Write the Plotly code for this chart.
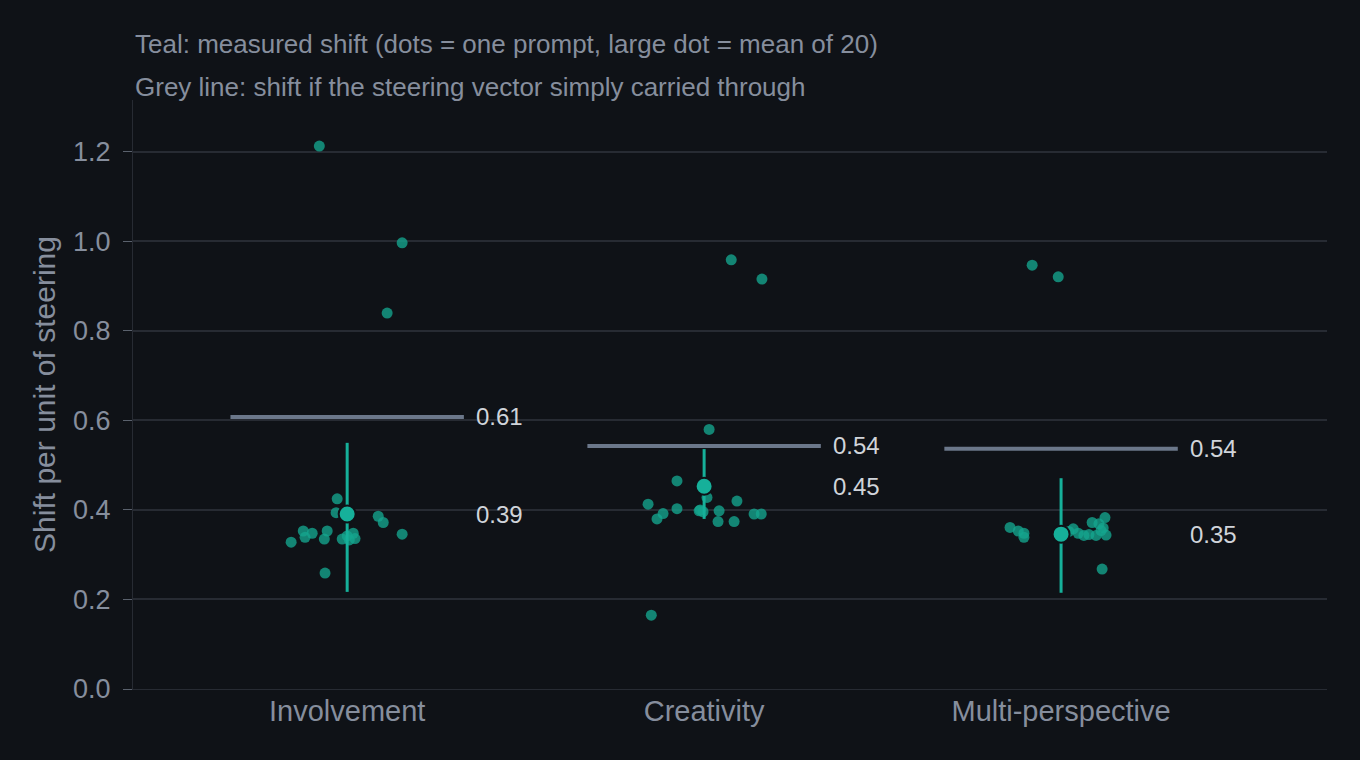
import plotly.graph_objects as go

categories = ["Involvement", "Creativity", "Multi-perspective"]

# per-prompt measured shifts (x jitter offset, y value)
inv_offsets = [-0.078, 0.154, 0.112, -0.028, -0.031, 0.087, 0.101, 0.154, -0.123, -0.098,
               -0.118, -0.157, -0.056, -0.064, -0.014, 0.017, 0.022, 0.006, -0.062, 0.0]
inv_values = [1.213, 0.997, 0.840, 0.425, 0.394, 0.386, 0.372, 0.346, 0.353, 0.348,
              0.339, 0.328, 0.353, 0.335, 0.335, 0.348, 0.336, 0.333, 0.259, 0.342]

cre_offsets = [0.076, 0.162, 0.014, -0.076, 0.008, -0.157, -0.115, -0.132, -0.076, -0.014,
               -0.003, 0.042, 0.039, 0.092, 0.084, 0.140, 0.160, -0.148, 0.003, -0.011]
cre_values = [0.959, 0.916, 0.580, 0.465, 0.428, 0.413, 0.392, 0.380, 0.403, 0.398,
              0.396, 0.398, 0.374, 0.420, 0.374, 0.391, 0.391, 0.165, 0.445, 0.400]

mul_offsets = [-0.081, -0.008, 0.115, -0.143, -0.120, -0.104, -0.104, 0.034, 0.048, 0.064,
               0.087, 0.106, 0.123, 0.098, 0.112, 0.126, 0.0, 0.078, 0.118, 0.022]
mul_values = [0.947, 0.921, 0.268, 0.361, 0.353, 0.348, 0.339, 0.358, 0.348, 0.343,
              0.372, 0.369, 0.383, 0.343, 0.354, 0.344, 0.345, 0.345, 0.360, 0.352]

means = [0.391, 0.453, 0.346]
ci_low = [0.217, 0.380, 0.215]
ci_high = [0.550, 0.536, 0.471]
predicted = [0.608, 0.543, 0.537]

title_lines = ["Teal: measured shift (dots = one prompt, large dot = mean of 20)",
               "Grey line: shift if the steering vector simply carried through"]
y_title = "Shift per unit of steering"

BG = "#0f1217"
GRID = "#272b33"
TEAL_DOT = "#14a58e"
TEAL = "#16b09a"
GREY_LINE = "#6b778a"
MUTED = "#868e9d"
LABEL = "#d0d4da"
FONT = "Liberation Sans, Arial, sans-serif"

fig = go.Figure()

all_offsets = [inv_offsets, cre_offsets, mul_offsets]
all_values = [inv_values, cre_values, mul_values]

for i, cat in enumerate(categories):
    fig.add_trace(go.Scatter(
        x=[i - 0.327, i + 0.327], y=[predicted[i], predicted[i]],
        mode="lines", line=dict(color=GREY_LINE, width=4),
        hoverinfo="skip", showlegend=False))

for i, cat in enumerate(categories):
    fig.add_trace(go.Scatter(
        x=[i + o for o in all_offsets[i]], y=all_values[i],
        mode="markers",
        marker=dict(color=TEAL_DOT, size=11, opacity=0.78, line=dict(width=0)),
        name=cat, showlegend=False))

for i, cat in enumerate(categories):
    fig.add_trace(go.Scatter(
        x=[i, i], y=[ci_low[i], ci_high[i]],
        mode="lines", line=dict(color=TEAL, width=3),
        hoverinfo="skip", showlegend=False))
    fig.add_trace(go.Scatter(
        x=[i], y=[means[i]], mode="markers",
        marker=dict(color=TEAL, size=17, line=dict(color=BG, width=2)),
        showlegend=False))
    fig.add_annotation(x=i + 0.355, y=predicted[i], text=f"{predicted[i]:.2f}",
                       xanchor="left", yanchor="middle", showarrow=False,
                       font=dict(family=FONT, size=24, color=LABEL))
    fig.add_annotation(x=i + 0.355, y=means[i], text=f"{means[i]:.2f}",
                       xanchor="left", yanchor="middle", showarrow=False,
                       font=dict(family=FONT, size=24, color=LABEL))

fig.add_annotation(xref="paper", yref="paper", x=0, y=1.095, text=title_lines[0],
                   xanchor="left", yanchor="middle", showarrow=False,
                   font=dict(family=FONT, size=26, color=MUTED))
fig.add_annotation(xref="paper", yref="paper", x=0, y=1.022, text=title_lines[1],
                   xanchor="left", yanchor="middle", showarrow=False,
                   font=dict(family=FONT, size=26, color=MUTED))

fig.update_layout(
    width=1360, height=760,
    paper_bgcolor=BG, plot_bgcolor=BG,
    margin=dict(l=133, r=33, t=100, b=71),
    font=dict(family=FONT, color=MUTED),
    xaxis=dict(range=[-0.6, 2.745], tickvals=[0, 1, 2], ticktext=categories,
               showgrid=False, zeroline=False, showline=True, linecolor=GRID, linewidth=1,
               ticks="", ticklabelstandoff=-4, tickfont=dict(size=29, color=MUTED)),
    yaxis=dict(range=[0, 1.316], tickvals=[0, 0.2, 0.4, 0.6, 0.8, 1.0, 1.2],
               tickformat=".1f", ticklabelstandoff=7,
               showgrid=True, gridcolor=GRID, gridwidth=1.5,
               zeroline=False, showline=True, linecolor=GRID, linewidth=1,
               ticks="outside", ticklen=9, tickcolor="#5a616d",
               tickfont=dict(size=27, color=MUTED),
               title=dict(text=y_title, font=dict(size=30, color=MUTED), standoff=8)),
)

fig.write_html("out.html")
